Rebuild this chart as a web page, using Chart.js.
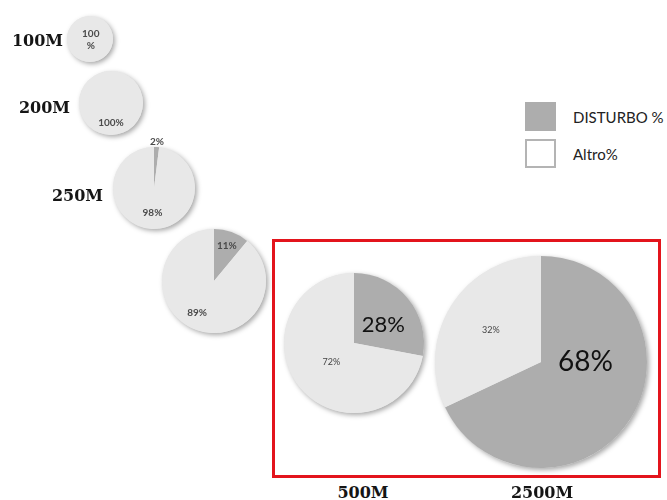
<!DOCTYPE html>
<html>
<head>
<meta charset="utf-8">
<script src="https://cdn.jsdelivr.net/npm/chart.js@4"></script>
<style>
  body { margin: 0; background: #fff; }
  #board { position: relative; width: 667px; height: 500px; overflow: hidden; }
  #board canvas { position: absolute; }
  .size { position: absolute; font: bold 16px "DejaVu Serif", serif; color: #151515; white-space: nowrap; }
  .frame { position: absolute; left: 272px; top: 239px; width: 389px; height: 239px; box-sizing: border-box; border: 3px solid #e3141c; }
  .key { position: absolute; left: 525px; width: 31px; height: 29px; box-sizing: border-box; }
  .key-text { position: absolute; left: 573px; font: 15px Lato, sans-serif; color: #222; transform: translateY(-50%); white-space: nowrap; }
</style>
</head>
<body>
<div id="board"></div>
<script>
    // values per pie, left to right
    var sizeLabels = ['100M', '200M', '250M', '', '500M', '2500M'];
    var disturbo = [0, 0, 2, 11, 28, 68];
    var altro = [100, 100, 98, 89, 72, 32];
    var legendLabels = ['DISTURBO %', 'Altro%'];

    var colors = ['#adadad', '#e8e8e8'];

    // where each pie sits on the board (center + radius)
    var pieLayout = [
        { x: 90, y: 39, r: 23 },
        { x: 111, y: 103, r: 32 },
        { x: 154, y: 188, r: 41 },
        { x: 214, y: 281, r: 52 },
        { x: 354, y: 343, r: 70 },
        { x: 541, y: 362, r: 106 }
    ];

    // anchor for each size caption: side captions are right-aligned, bottom ones centered
    var captionPos = [
        { x: 63, y: 40, align: 'right' },
        { x: 70, y: 107, align: 'right' },
        { x: 103, y: 195, align: 'right' },
        null,
        { x: 363, y: 492, align: 'center' },
        { x: 542, y: 492, align: 'center' }
    ];

    // percent label placement: fraction of radius along the slice middle, optional turn in degrees
    var smallBold = { size: 10, weight: 'bold', color: '#4a4a4a' };
    var withPos = function (base, at, turn, extra) {
        var o = Object.assign({}, base, { at: at, turn: turn || 0 });
        return Object.assign(o, extra || {});
    };
    var pctStyle = [
        [null, withPos(smallBold, 0.05, -40, { wrap: true })],
        [null, withPos(smallBold, 0.62)],
        [withPos(smallBold, 1.12), withPos(smallBold, 0.6)],
        [withPos(smallBold, 0.73), withPos(smallBold, 0.7, 8)],
        [{ at: 0.49, turn: 8, size: 22, weight: 'normal', color: '#111' }, { at: 0.42, size: 9, weight: 'normal', color: '#444' }],
        [{ at: 0.42, turn: -32, size: 28, weight: 'normal', color: '#111' }, { at: 0.56, size: 9, weight: 'normal', color: '#444' }]
    ];

    var pad = 14;
    var board = document.getElementById('board');

    var pieDecor = {
        id: 'pieDecor',
        beforeDatasetsDraw: function (chart) {
            // soft drop shadow under the whole disc
            var arc = chart.getDatasetMeta(0).data[0];
            var ctx = chart.ctx;
            ctx.save();
            ctx.shadowColor = 'rgba(0, 0, 0, 0.35)';
            ctx.shadowBlur = 5;
            ctx.shadowOffsetX = 2;
            ctx.shadowOffsetY = 2;
            ctx.fillStyle = colors[1];
            ctx.beginPath();
            ctx.arc(arc.x, arc.y, arc.outerRadius, 0, Math.PI * 2);
            ctx.fill();
            ctx.restore();
        },
        afterDatasetsDraw: function (chart, args, opts) {
            var ctx = chart.ctx;
            var values = chart.data.datasets[0].data;
            chart.getDatasetMeta(0).data.forEach(function (arc, i) {
                var st = opts.styles[i];
                if (!st || !values[i]) return;
                var mid = (arc.startAngle + arc.endAngle) / 2 + (st.turn || 0) * Math.PI / 180;
                var d = arc.outerRadius * st.at;
                var x = arc.x + Math.cos(mid) * d;
                var y = arc.y + Math.sin(mid) * d;
                ctx.save();
                ctx.font = st.weight + ' ' + st.size + 'px Lato, sans-serif';
                ctx.fillStyle = st.color;
                ctx.textAlign = 'center';
                ctx.textBaseline = 'middle';
                if (st.wrap) {
                    ctx.fillText(String(values[i]), x, y - st.size * 0.6);
                    ctx.fillText('%', x, y + st.size * 0.6);
                } else {
                    ctx.fillText(values[i] + '%', x, y);
                }
                ctx.restore();
            });
        }
    };

    var renderPie = function (i) {
        var p = pieLayout[i];
        var side = 2 * (p.r + pad);
        var canvas = document.createElement('canvas');
        canvas.width = side;
        canvas.height = side;
        canvas.style.left = (p.x - p.r - pad) + 'px';
        canvas.style.top = (p.y - p.r - pad) + 'px';
        board.appendChild(canvas);

        new Chart(canvas.getContext('2d'), {
            type: 'pie',
            data: {
                labels: legendLabels,
                datasets: [{
                    data: [disturbo[i], altro[i]],
                    backgroundColor: colors,
                    borderWidth: 0
                }]
            },
            options: {
                responsive: false,
                animation: false,
                devicePixelRatio: 1,
                layout: { padding: pad },
                plugins: {
                    legend: { display: false },
                    tooltip: { enabled: false },
                    pieDecor: { styles: pctStyle[i] }
                }
            },
            plugins: [pieDecor]
        });
    };

    var renderCaption = function (i) {
        var c = captionPos[i];
        if (!c || !sizeLabels[i]) return;
        var el = document.createElement('div');
        el.className = 'size';
        el.textContent = sizeLabels[i];
        el.style.left = c.x + 'px';
        el.style.top = c.y + 'px';
        el.style.transform = c.align === 'right' ? 'translate(-100%, -50%)' : 'translate(-50%, -50%)';
        board.appendChild(el);
    };

    var renderLegend = function () {
        var tops = [102, 139];
        legendLabels.forEach(function (txt, k) {
            var box = document.createElement('div');
            box.className = 'key';
            box.style.top = tops[k] + 'px';
            if (k === 0) {
                box.style.background = colors[0];
            } else {
                box.style.background = '#fff';
                box.style.border = '2px solid #b4b4b4';
            }
            board.appendChild(box);

            var label = document.createElement('div');
            label.className = 'key-text';
            label.style.top = (tops[k] + 15) + 'px';
            label.textContent = txt;
            board.appendChild(label);
        });
    };

    var frame = document.createElement('div');
    frame.className = 'frame';
    board.appendChild(frame);

    for (var i = 0; i < pieLayout.length; i++) {
        renderPie(i);
        renderCaption(i);
    }
    renderLegend();
</script>
</body>
</html>
